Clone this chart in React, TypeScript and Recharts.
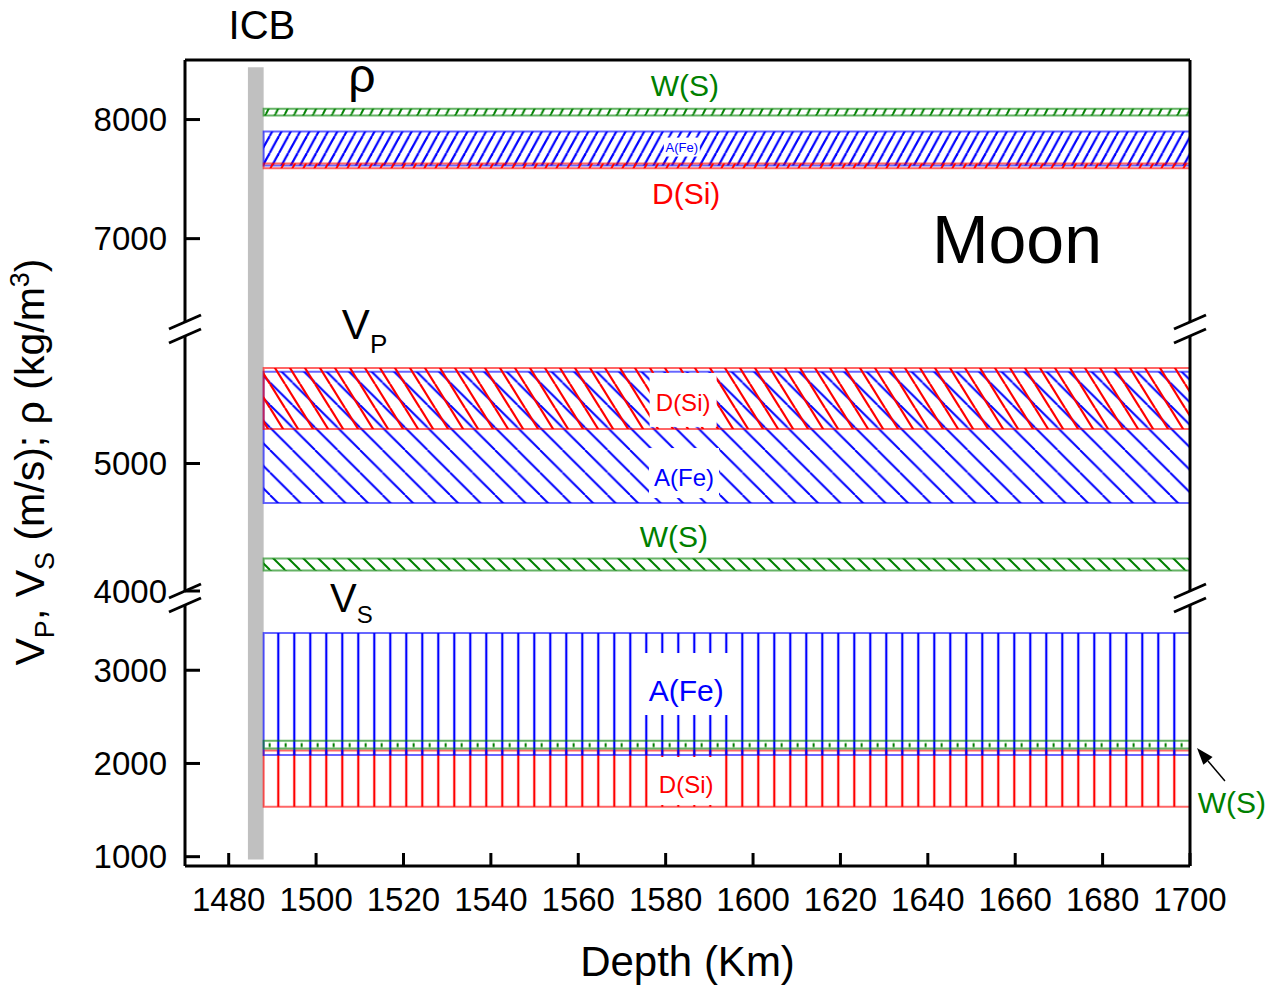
import React from "react";
import {
  ComposedChart,
  XAxis,
  YAxis,
  ReferenceArea,
  ReferenceLine,
  ReferenceDot,
} from "recharts";

// depth axis (km)
const depthDomain = [1470, 1700];
const depthTicks = [1480, 1500, 1520, 1540, 1560, 1580, 1600, 1620, 1640, 1660, 1680, 1700];
const bandDepth = [1488, 1700];
const icbDepth = [1484.4, 1488];

const phases = ["W(S)", "A(Fe)", "D(Si)"];

// density rho (kg/m3)
const rhoDomain = [6300, 8500];
const rhoTicks = [7000, 8000];
const rhoLow = [8035, 7615, 7590];
const rhoHigh = [8090, 7900, 7630];

// Vp (m/s)
const vpDomain = [4000, 6000];
const vpTicks = [4000, 5000];
const vpLow = [4160, 4690, 5270];
const vpHigh = [4255, 5720, 5750];

// Vs (m/s)
const vsDomain = [900, 3700];
const vsTicks = [1000, 2000, 3000];
const vsLow = [2160, 2090, 1535];
const vsHigh = [2245, 3400, 2140];

const edgeData = bandDepth.map((depth) => ({ depth }));

const W = 1272;
const H = 987;
const PLOT_L = 185;
const PLOT_R = 1190;
const Y_W = 100;
const FONT = "'Liberation Sans', Arial, sans-serif";
const phaseColor: Record<string, string> = {
  "W(S)": "#008000",
  "A(Fe)": "#0000ff",
  "D(Si)": "#ff0000",
};

type Hatch = { dir: "/" | "\\" | "|" | "tick"; w: number; h: number; sw: number; x?: number };

function HatchPattern({ id, color, hatch }: { id: string; color: string; hatch: Hatch }) {
  const { dir, w, h, sw } = hatch;
  if (dir === "tick") {
    // short vertical ticks in the middle of a thin band
    return (
      <pattern id={id} patternUnits="objectBoundingBox" x={0} y={0} width={w} height={1}>
        <line x1={6} y1={2.5} x2={6} y2={6.5} stroke={color} strokeWidth={sw} />
      </pattern>
    );
  }
  let lines: number[][] = [];
  if (dir === "/") lines = [[-w, h, 0, 0], [0, h, w, 0], [w, h, 2 * w, 0]];
  if (dir === "\\") lines = [[-w, 0, 0, h], [0, 0, w, h], [w, 0, 2 * w, h]];
  if (dir === "|") lines = [[w / 2, 0, w / 2, h]];
  return (
    <pattern id={id} patternUnits="userSpaceOnUse" x={hatch.x ?? 0} y={0} width={w} height={h}>
      {lines.map((l, i) => (
        <line key={i} x1={l[0]} y1={l[1]} x2={l[2]} y2={l[3]} stroke={color} strokeWidth={sw} />
      ))}
    </pattern>
  );
}

type NoteOpts = {
  text: string;
  size: number;
  color?: string;
  sub?: string;
  subSize?: number;
  subDy?: number;
  anchor?: "start" | "middle";
  box?: [number, number, number];
};

const note = (o: NoteOpts) => (props: any) => {
  const vb = props.viewBox ?? {};
  const cx = (vb.x ?? props.x ?? 0) + (vb.width ?? 0) / 2;
  const cy = (vb.y ?? props.y ?? 0) + (vb.height ?? 0) / 2;
  return (
    <g>
      {o.box && (
        <rect
          x={cx - o.box[0] / 2}
          y={cy - o.box[1] / 2 + o.box[2]}
          width={o.box[0]}
          height={o.box[1]}
          fill="#fff"
        />
      )}
      <text
        x={cx}
        y={cy + o.size * 0.35}
        textAnchor={o.anchor ?? "middle"}
        fontSize={o.size}
        fill={o.color ?? "#000"}
        fontFamily={FONT}
      >
        {o.text}
        {o.sub && (
          <tspan dy={o.subDy ?? o.size * 0.35} fontSize={o.subSize}>
            {o.sub}
          </tspan>
        )}
      </text>
    </g>
  );
};

type Note = { x: number; y: number; opts: NoteOpts };

type Panel = {
  key: string;
  seg: [number, number];
  domain: number[];
  ticks: number[];
  low: number[];
  high: number[];
  order: number[];
  hatch: Hatch[];
  icb: [number, number];
  notes: Note[];
  top?: boolean;
  bottom?: boolean;
};

const panels: Panel[] = [
  {
    key: "rho",
    seg: [60, 322],
    domain: rhoDomain,
    ticks: rhoTicks,
    low: rhoLow,
    high: rhoHigh,
    order: [0, 1, 2],
    hatch: [
      { dir: "/", w: 9.5, h: 19, sw: 2 },
      { dir: "/", w: 9.3, h: 17, sw: 2.2 },
      { dir: "/", w: 11, h: 20, sw: 2 },
    ],
    icb: [6240, 8440],
    top: true,
    notes: [
      { x: 1487.6, y: 8794, opts: { text: "ICB", size: 40 } },
      { x: 1510.5, y: 8370, opts: { text: "ρ", size: 48 } },
      { x: 1584.4, y: 8282, opts: { text: phases[0], size: 30, color: phaseColor["W(S)"] } },
      { x: 1583.7, y: 7769, opts: { text: phases[1], size: 13, color: phaseColor["A(Fe)"], box: [36, 19, 0] } },
      { x: 1584.7, y: 7383, opts: { text: phases[2], size: 30, color: phaseColor["D(Si)"] } },
      { x: 1660.4, y: 6997, opts: { text: "Moon", size: 68 } },
    ],
  },
  {
    key: "vp",
    seg: [336, 591],
    domain: vpDomain,
    ticks: vpTicks,
    low: vpLow,
    high: vpHigh,
    order: [1, 2, 0],
    hatch: [
      { dir: "\\", w: 15, h: 15, sw: 2 },
      { dir: "\\", w: 22.5, h: 22.5, sw: 2 },
      { dir: "\\", w: 15, h: 24, sw: 2.2 },
    ],
    icb: [3945, 6055],
    notes: [
      { x: 1505.9, y: 6094, opts: { text: "V", size: 42, sub: "P", subSize: 26, anchor: "start" } },
      { x: 1584.0, y: 5475, opts: { text: phases[2], size: 24, color: phaseColor["D(Si)"], box: [67, 54, -3] } },
      { x: 1584.2, y: 4886, opts: { text: phases[1], size: 24, color: phaseColor["A(Fe)"], box: [70, 50, -5] } },
      { x: 1581.9, y: 4431, opts: { text: phases[0], size: 30, color: phaseColor["W(S)"] } },
    ],
  },
  {
    key: "vs",
    seg: [605, 866],
    domain: vsDomain,
    ticks: vsTicks,
    low: vsLow,
    high: vsHigh,
    order: [2, 1, 0],
    hatch: [
      { dir: "tick", w: 16 / 926.4, h: 1, sw: 2 },
      { dir: "|", w: 16, h: 10, sw: 2.2, x: -1.7 },
      { dir: "|", w: 16, h: 10, sw: 2.2, x: -1.7 },
    ],
    icb: [970, 3775],
    bottom: true,
    notes: [
      { x: 1503.2, y: 3780, opts: { text: "V", size: 40, sub: "S", subSize: 24, subDy: 11, anchor: "start" } },
      { x: 1584.7, y: 2788, opts: { text: phases[1], size: 30, color: phaseColor["A(Fe)"], box: [100, 62, -6] } },
      { x: 1584.7, y: 1769, opts: { text: phases[2], size: 24, color: phaseColor["D(Si)"], box: [76, 48, -4] } },
      { x: 1709.6, y: 1576, opts: { text: phases[0], size: 30, color: phaseColor["W(S)"] } },
    ],
  },
];

// arrow pointing at the thin W(S) band of Vs
const wsArrow = [
  { x: 1708, y: 1812 },
  { x: 1701.6, y: 2166 },
];

const arrowShape = (p: any) => {
  const { x1, y1, x2, y2 } = p;
  const a = Math.atan2(y2 - y1, x2 - x1);
  const L = 17;
  const hw = 6;
  const bx = x2 - L * Math.cos(a);
  const by = y2 - L * Math.sin(a);
  const px = -Math.sin(a) * hw;
  const py = Math.cos(a) * hw;
  return (
    <g>
      <line x1={x1} y1={y1} x2={bx} y2={by} stroke="#000" strokeWidth={1.5} />
      <polygon points={`${x2},${y2} ${bx + px},${by + py} ${bx - px},${by - py}`} fill="#000" />
    </g>
  );
};

const axisStroke = { stroke: "#000", strokeWidth: 3 };

function PanelChart({ p }: { p: Panel }) {
  const xAxisH = 110;
  const margin = {
    top: p.seg[0],
    bottom: H - p.seg[1] - (p.bottom ? xAxisH : 0),
    left: PLOT_L - Y_W,
    right: W - PLOT_R,
  };
  return (
    <div style={{ position: "absolute", left: 0, top: 0 }}>
      <ComposedChart width={W} height={H} margin={margin} data={edgeData}>
        <defs>
          {phases.map((ph, i) => (
            <HatchPattern key={ph} id={`${p.key}-${i}`} color={phaseColor[ph]} hatch={p.hatch[i]} />
          ))}
        </defs>
        <XAxis
          dataKey="depth"
          type="number"
          domain={depthDomain}
          ticks={depthTicks}
          allowDataOverflow
          hide={!p.bottom}
          height={xAxisH}
          interval={0}
          axisLine={axisStroke}
          tickLine={axisStroke}
          tickSize={-13}
          tickMargin={35}
          tick={{ fill: "#000", fontSize: 33 }}
          label={{ value: "Depth (Km)", position: "insideBottom", offset: 0, fill: "#000", fontSize: 42 }}
        />
        <YAxis
          type="number"
          domain={p.domain}
          ticks={p.ticks}
          allowDataOverflow
          width={Y_W}
          interval={0}
          axisLine={axisStroke}
          tickLine={axisStroke}
          tickSize={-15}
          tickMargin={33}
          tick={{ fill: "#000", fontSize: 33 }}
        />
        <ReferenceArea
          x1={icbDepth[0]}
          x2={icbDepth[1]}
          y1={p.icb[0]}
          y2={p.icb[1]}
          fill="#c0c0c0"
          fillOpacity={1}
          stroke="none"
          ifOverflow="visible"
        />
        {p.order.map((i) => (
          <ReferenceArea
            key={phases[i]}
            x1={bandDepth[0]}
            x2={bandDepth[1]}
            y1={p.low[i]}
            y2={p.high[i]}
            fill={`url(#${p.key}-${i})`}
            fillOpacity={1}
            stroke={phaseColor[phases[i]]}
            strokeOpacity={0.6}
            strokeWidth={2}
            ifOverflow="visible"
          />
        ))}
        <ReferenceLine x={depthDomain[1]} stroke="#000" strokeWidth={3} ifOverflow="visible" />
        {p.top && <ReferenceLine y={p.domain[1]} stroke="#000" strokeWidth={3} ifOverflow="visible" />}
        {p.bottom && (
          <ReferenceLine segment={wsArrow} ifOverflow="visible" shape={arrowShape} stroke="#000" />
        )}
        {p.notes.map((n, i) => (
          <ReferenceDot
            key={i}
            x={n.x}
            y={n.y}
            r={1}
            fill="none"
            stroke="none"
            ifOverflow="visible"
            label={note(n.opts)}
          />
        ))}
      </ComposedChart>
    </div>
  );
}

function Overlay() {
  const breaks = [
    (panels[0].seg[1] + panels[1].seg[0]) / 2,
    (panels[1].seg[1] + panels[2].seg[0]) / 2,
  ];
  return (
    <svg width={W} height={H} style={{ position: "absolute", left: 0, top: 0 }}>
      {breaks.map((yc) =>
        [PLOT_L, PLOT_R].map((x) => (
          <g key={`${yc}-${x}`} stroke="#000" strokeWidth={3}>
            <line x1={x - 16} y1={yc} x2={x + 16} y2={yc - 14} />
            <line x1={x - 16} y1={yc + 14} x2={x + 16} y2={yc} />
          </g>
        ))
      )}
      <text
        transform="translate(44,462) rotate(-90)"
        textAnchor="middle"
        fontSize={41}
        fontFamily={FONT}
        fill="#000"
      >
        V<tspan dy={10} fontSize={27}>P</tspan>
        <tspan dy={-10}>, V</tspan>
        <tspan dy={10} fontSize={27}>S</tspan>
        <tspan dy={-10}> (m/s); ρ (kg/m</tspan>
        <tspan dy={-15} fontSize={27}>3</tspan>
        <tspan dy={15}>)</tspan>
      </text>
    </svg>
  );
}

export default function App() {
  return (
    <div
      style={{
        position: "absolute",
        left: 0,
        top: 0,
        width: W,
        height: H,
        background: "#fff",
        fontFamily: FONT,
      }}
    >
      {panels.map((p) => (
        <PanelChart key={p.key} p={p} />
      ))}
      <Overlay />
    </div>
  );
}
